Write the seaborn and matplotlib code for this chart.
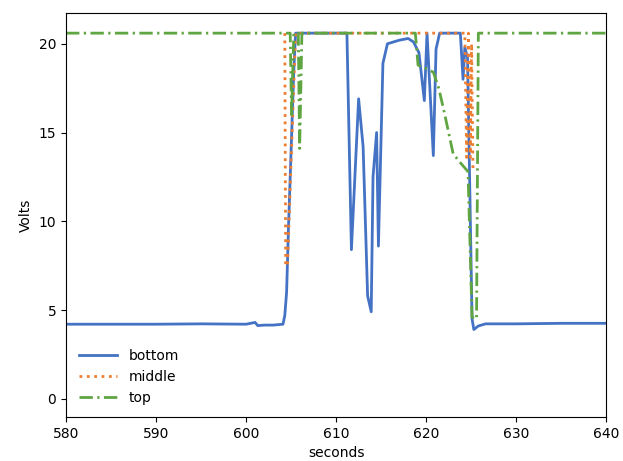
import matplotlib
matplotlib.use("Agg")
import matplotlib.pyplot as plt
import seaborn as sns
import pandas as pd

# bottom sensor
bottom_t = [580, 585, 590, 595, 600, 601.0, 601.3, 602, 603, 604.1, 604.3, 604.5, 604.7,
            605.0, 605.3, 605.5, 611.2, 611.7, 612.5, 613.0, 613.5, 613.9, 614.1, 614.5,
            614.7, 615.2, 615.7, 617, 618, 618.6, 619.2, 619.8, 620.1, 620.8, 621.1, 621.5,
            623.8, 624.1, 624.3, 624.6, 625.1, 625.3, 625.8, 626.6, 630, 635, 640]
bottom_v = [4.2, 4.2, 4.2, 4.22, 4.2, 4.3, 4.12, 4.15, 4.15, 4.2, 4.7, 6.0, 9.5,
            14.0, 18.5, 20.6, 20.6, 8.4, 16.9, 14.2, 5.8, 4.9, 12.5, 15.0,
            8.6, 18.9, 20.0, 20.2, 20.3, 20.1, 19.5, 16.8, 20.6, 13.7, 19.7, 20.6,
            20.6, 18.0, 19.8, 19.2, 4.5, 3.9, 4.1, 4.22, 4.22, 4.25, 4.25]

# middle sensor
middle_t = [604.3, 604.4, 604.6, 605.5, 624.3, 624.5, 624.7, 624.9, 625.05, 625.2]
middle_v = [20.6, 7.5, 7.5, 20.6, 20.6, 13.6, 20.6, 13.6, 20.0, 13.0]

# top sensor
top_t = [580, 604.9, 605.05, 605.3, 605.8, 605.95, 606.2, 618.8, 619.1, 620.0, 620.8,
         621.4, 621.9, 622.5, 623.0, 623.8, 624.65, 625.1, 625.6, 625.8, 640]
top_v = [20.6, 20.6, 16.0, 20.6, 20.6, 14.1, 20.6, 20.6, 18.8, 18.6, 18.4,
         17.5, 16.4, 15.0, 13.8, 13.3, 12.8, 4.6, 4.5, 20.6, 20.6]

labels = ["bottom", "middle", "top"]
colors = ["#4472C4", "#ED7D31", "#5FA541"]
styles = ["-", (0, (1, 1.65)), (0, (4.8, 1.6, 0.8, 1.6))]

fig = plt.figure(figsize=(6.23, 4.61), dpi=100)
ax = fig.add_axes([0.106, 0.095, 0.867, 0.877])

for t, v, lab, c, ls in zip([bottom_t, middle_t, top_t], [bottom_v, middle_v, top_v],
                            labels, colors, styles):
    df = pd.DataFrame({"seconds": t, "Volts": v})
    sns.lineplot(data=df, x="seconds", y="Volts", ax=ax, color=c, linestyle=ls,
                 linewidth=2, label=lab, sort=False, estimator=None)

ax.set_xlim(580, 640)
ax.set_ylim(-1.04, 21.74)
ax.set_xticks([580, 590, 600, 610, 620, 630, 640])
ax.set_yticks([0, 5, 10, 15, 20])
ax.set_xlabel("seconds")
ax.set_ylabel("Volts")
ax.legend(loc="lower left", frameon=False, handlelength=2.8)

fig.savefig("out.png", dpi=100)
